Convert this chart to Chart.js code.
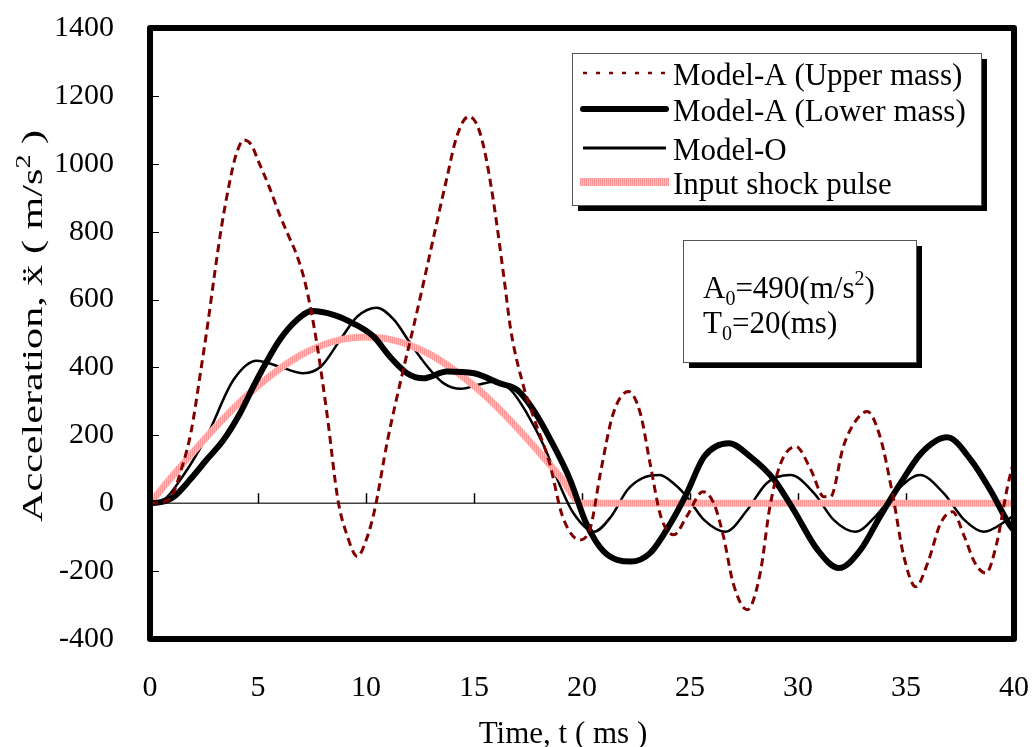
<!DOCTYPE html>
<html><head><meta charset="utf-8">
<script src="https://cdn.jsdelivr.net/npm/chart.js@4.4.1/dist/chart.umd.min.js"></script>
<style>html,body{margin:0;padding:0;background:#fff;}#wrap{width:1033px;height:747px;}</style>
</head><body><div id="wrap"><canvas id="c" width="1033" height="747"></canvas></div>
<script>
// ---- data ----
const seriesLabels = ['Model-A (Upper mass)', 'Model-A (Lower mass)', 'Model-O', 'Input shock pulse'];
const xTitle = 'Time, t ( ms )';
const yTitleParts = ['Acceleration, ẍ ( m/s', '2', ' )'];
const xTicks = [0, 5, 10, 15, 20, 25, 30, 35, 40];
const xTickLabels = ['0', '5', '10', '15', '20', '25', '30', '35', '40'];
const yTicks = [-400, -200, 0, 200, 400, 600, 800, 1000, 1200, 1400];
const yTickLabels = ['-400', '-200', '0', '200', '400', '600', '800', '1000', '1200', '1400'];
const noteLine1 = ['A', '0', '=490(m/s', '2', ')'];
const noteLine2 = ['T', '0', '=20(ms)'];

const upperT = [0, 0.6, 1.0, 1.5, 1.9, 2.35, 2.7, 3.0, 3.3, 3.7, 4.0, 4.35, 4.7, 5.0, 5.5, 6.0, 6.4, 6.8, 7.2, 7.7, 8.2, 8.7, 9.1, 9.6, 10.0, 10.4, 11.0, 11.75, 12.2, 12.7, 13.15, 13.75, 14.2, 14.75, 15.1, 15.45, 15.9, 16.4, 16.7, 17.3, 17.75, 18.5, 19.1, 19.9, 20.4, 20.85, 21.45, 22.15, 22.7, 23.15, 23.65, 24.25, 24.85, 25.6, 26.1, 26.55, 27.0, 27.65, 28.25, 28.7, 29.2, 29.9, 30.6, 31.2, 31.5, 32.1, 32.6, 33.2, 33.8, 34.4, 34.9, 35.45, 36.0, 36.6, 37.15, 37.7, 38.2, 38.7, 39.2, 39.7, 40];
const upperV = [0, 3, 20, 110, 210, 390, 540, 680, 810, 950, 1030, 1070, 1055, 1010, 935, 850, 790, 730, 645, 480, 260, 10, -90, -157, -110, -20, 186, 400, 520, 660, 790, 960, 1080, 1139, 1120, 1050, 890, 658, 511, 343, 255, 118, -39, -108, -69, 88, 265, 329, 265, 118, -39, -93, -39, 34, 0, -98, -236, -314, -206, -10, 118, 167, 98, 19, 19, 167, 236, 270, 196, 19, -157, -246, -177, -59, -25, -98, -177, -206, -118, 49, 128];

const lowerT = [0, 0.5, 1.1, 1.85, 2.62, 3.4, 4.17, 4.94, 6.0, 6.8, 7.5, 8.5, 9.4, 10.35, 11.1, 11.9, 12.65, 13.75, 15.0, 16.2, 17.0, 17.75, 18.55, 19.45, 20.2, 21.0, 22.25, 23.15, 24.1, 24.85, 25.65, 26.8, 27.8, 28.9, 29.8, 30.9, 31.9, 32.9, 33.8, 34.75, 35.7, 36.9, 38.0, 38.9, 39.85, 40];
const lowerV = [0, 3, 19, 69, 128, 186, 265, 363, 481, 540, 566, 555, 530, 491, 432, 383, 368, 388, 383, 353, 334, 275, 186, 69, -60, -142, -172, -147, -59, 29, 137, 177, 137, 69, -20, -137, -191, -137, -39, 59, 147, 194, 128, 39, -69, -80];

const modelOT = [0, 0.6, 1.5, 2.62, 3.86, 4.94, 6.0, 7.1, 7.9, 8.8, 9.6, 10.5, 11.3, 12.05, 12.85, 13.6, 14.4, 15.15, 15.9, 16.7, 17.45, 18.25, 19.0, 19.6, 20.55, 21.35, 22.1, 22.8, 23.6, 24.3, 24.85, 25.65, 26.65, 27.65, 28.55, 29.65, 30.75, 31.65, 32.65, 33.65, 34.6, 35.65, 36.75, 37.7, 38.6, 39.7, 40];
const modelOV = [0, 8, 78, 196, 363, 420, 402, 383, 402, 481, 550, 576, 540, 471, 402, 353, 337, 348, 358, 334, 265, 167, 49, -29, -84, -39, 39, 74, 83, 55, 19, -49, -84, -20, 59, 83, 29, -49, -84, -34, 39, 83, 29, -49, -84, -49, -35];

const pulseT = [0, 1, 2, 3, 4, 5, 6, 7, 8, 9, 10, 11, 12, 13, 14, 15, 16, 17, 18, 19, 20, 40];
const pulseV = [0, 77, 151, 222, 288, 346, 396, 437, 466, 484, 490, 484, 466, 437, 396, 346, 288, 222, 151, 77, 0, 0];

// ---- helpers ----
const FONT = "'Liberation Serif', 'Times New Roman', serif";
const pts = (ts, vs) => ts.map((t, i) => ({x: t, y: vs[i]}));
function stripePattern() {
  const c = document.createElement('canvas'); c.width = 2; c.height = 1;
  const g = c.getContext('2d');
  g.fillStyle = 'rgb(255,150,150)'; g.fillRect(0, 0, 1, 1);
  g.fillStyle = 'rgb(255,188,188)'; g.fillRect(1, 0, 1, 1);
  return g.createPattern(c, 'repeat');
}
const pinkPat = stripePattern();

const axesDeco = {
  id: 'axesDeco',
  beforeDatasetsDraw(chart) {
    const {ctx, chartArea: a, scales: {x, y}} = chart;
    const y0 = y.getPixelForValue(0);
    ctx.save();
    ctx.strokeStyle = '#444'; ctx.lineWidth = 1.5;
    ctx.beginPath(); ctx.moveTo(a.left, y0); ctx.lineTo(a.right, y0); ctx.stroke();
    ctx.strokeStyle = '#000'; ctx.lineWidth = 1.5;
    xTicks.slice(1, -1).forEach(v => {
      const px = Math.round(x.getPixelForValue(v)) + 0.5;
      ctx.beginPath(); ctx.moveTo(px, y0); ctx.lineTo(px, y0 - 10); ctx.stroke();
    });
    ctx.lineWidth = 1;
    yTicks.slice(1, -1).forEach(v => {
      const py = Math.round(y.getPixelForValue(v)) + 0.5;
      ctx.beginPath(); ctx.moveTo(a.left, py); ctx.lineTo(a.left + 9, py); ctx.stroke();
    });
    ctx.restore();
  },
  afterDatasetsDraw(chart) {
    const {ctx, chartArea: a} = chart;
    ctx.save();
    ctx.strokeStyle = '#000'; ctx.lineWidth = 6; ctx.lineJoin = 'round';
    ctx.strokeRect(a.left, a.top, a.right - a.left, a.bottom - a.top);
    ctx.restore();
  }
};

function shadowBox(ctx, x, y, w, h) {
  ctx.fillStyle = '#000'; ctx.fillRect(x + 6, y + 6, w, h);
  ctx.fillStyle = '#fff'; ctx.fillRect(x, y, w, h);
  ctx.strokeStyle = '#555'; ctx.lineWidth = 1;
  ctx.strokeRect(x + 0.5, y + 0.5, w, h);
}

function drawRuns(ctx, x, y, parts, kinds, big, small, supDy, subDy) {
  parts.forEach((p, i) => {
    const k = kinds[i];
    ctx.font = (k === 'n' ? big : small) + 'px ' + FONT;
    const dy = k === 'sub' ? subDy : (k === 'sup' ? supDy : 0);
    ctx.fillText(p, x, y + dy);
    x += ctx.measureText(p).width;
  });
  return x;
}
function runsWidth(ctx, parts, kinds, big, small) {
  let w = 0;
  parts.forEach((p, i) => { ctx.font = (kinds[i] === 'n' ? big : small) + 'px ' + FONT; w += ctx.measureText(p).width; });
  return w;
}

const boxes = {
  id: 'boxes',
  afterDraw(chart) {
    const ctx = chart.ctx;
    ctx.save();
    ctx.textBaseline = 'alphabetic'; ctx.textAlign = 'left';
    // axis titles
    ctx.fillStyle = '#000';
    ctx.font = '31px ' + FONT;
    ctx.textAlign = 'center';
    ctx.fillText(xTitle, 563, 743);
    ctx.textAlign = 'left';
    const yk = ['n', 'sup', 'n'];
    const w = runsWidth(ctx, yTitleParts, yk, 30, 20);
    ctx.save();
    ctx.translate(42, 522);
    ctx.rotate(-Math.PI / 2);
    ctx.scale(392 / w, 1);
    drawRuns(ctx, 0, 0, yTitleParts, yk, 30, 20, -12, 0);
    ctx.restore();
    // legend
    shadowBox(ctx, 572, 53, 409, 152);
    const rows = [73, 109, 148, 182];
    const dashes = [[4, 9], [], [], []];
    chart.data.datasets.forEach((ds, i) => {
      const yy = rows[i];
      ctx.save();
      ctx.strokeStyle = ds.borderColor;
      ctx.lineWidth = i === 0 ? 2.5 : (i === 1 ? 6 : (i === 2 ? 3 : 8));
      ctx.lineCap = i === 1 ? 'round' : 'butt';
      ctx.setLineDash(dashes[i]);
      ctx.beginPath(); ctx.moveTo(i === 3 ? 580 : 583, yy); ctx.lineTo(i === 3 ? 669 : 666, yy); ctx.stroke();
      ctx.restore();
      ctx.fillStyle = '#000';
      ctx.font = '31px ' + FONT;
      ctx.fillText(ds.label, 673, yy + 12);
    });
    // note box
    shadowBox(ctx, 683, 240, 233, 122);
    ctx.fillStyle = '#000';
    drawRuns(ctx, 703, 298, noteLine1, ['n', 'sub', 'n', 'sup', 'n'], 31, 20, -13, 7);
    drawRuns(ctx, 703, 333, noteLine2, ['n', 'sub', 'n'], 31, 20, -13, 7);
    ctx.restore();
  }
};

new Chart(document.getElementById('c'), {
  type: 'line',
  data: {
    datasets: [
      {label: seriesLabels[0], data: pts(upperT, upperV), borderColor: '#800000', borderWidth: 3, borderDash: [8, 5], order: 1},
      {label: seriesLabels[1], data: pts(lowerT, lowerV), borderColor: '#000', borderWidth: 6, order: 2},
      {label: seriesLabels[2], data: pts(modelOT, modelOV), borderColor: '#000', borderWidth: 2.5, order: 4},
      {label: seriesLabels[3], data: pts(pulseT, pulseV), borderColor: pinkPat, borderWidth: 7, order: 3}
    ]
  },
  options: {
    responsive: false,
    animation: false,
    layout: {padding: {left: 0, right: 19, top: 28, bottom: 0}},
    elements: {point: {radius: 0}, line: {cubicInterpolationMode: 'monotone', fill: false}},
    plugins: {legend: {display: false}, tooltip: {enabled: false}},
    scales: {
      x: {
        type: 'linear', min: 0, max: 40,
        afterBuildTicks: s => { s.ticks = xTicks.map(v => ({value: v})); },
        afterFit: s => { s.height = 108; s.paddingLeft = 0; s.paddingRight = 0; },
        grid: {display: false}, border: {display: false},
        ticks: {color: '#000', font: {family: FONT, size: 30}, padding: 23, autoSkip: false, maxRotation: 0,
          callback: (v, i) => xTickLabels[i]},
        title: {display: false}
      },
      y: {
        type: 'linear', min: -400, max: 1400,
        afterBuildTicks: s => { s.ticks = yTicks.map(v => ({value: v})); },
        afterFit: s => { s.width = 150; s.paddingTop = 0; s.paddingBottom = 0; },
        grid: {display: false}, border: {display: false},
        ticks: {color: '#000', font: {family: FONT, size: 30}, padding: 28, autoSkip: false,
          callback: (v, i) => yTickLabels[i]},
        title: {display: false}
      }
    }
  },
  plugins: [axesDeco, boxes]
});
</script></body></html>
